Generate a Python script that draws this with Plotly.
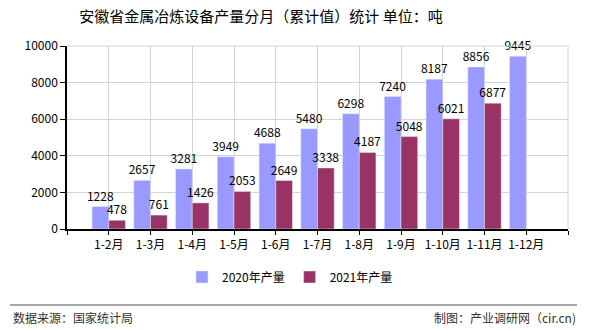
import plotly.graph_objects as go

categories = ["1-2月", "1-3月", "1-4月", "1-5月", "1-6月", "1-7月", "1-8月", "1-9月", "1-10月", "1-11月", "1-12月"]
values_2020 = [1228, 2657, 3281, 3949, 4688, 5480, 6298, 7240, 8187, 8856, 9445]
values_2021 = [478, 761, 1426, 2053, 2649, 3338, 4187, 5048, 6021, 6877, None]
y_ticks = [0, 2000, 4000, 6000, 8000, 10000]

FONT = "Noto Sans CJK SC, DejaVu Sans, sans-serif"
pos = list(range(1, len(categories) + 1))

fig = go.Figure()
fig.add_trace(go.Bar(
    x=pos, y=values_2020, name="2020年产量", marker_color="#9999FF",
    text=[str(v) for v in values_2020], textposition="outside", cliponaxis=False,
    constraintext="none",
    textfont=dict(size=12, color="#000000", family=FONT),
))
fig.add_trace(go.Bar(
    x=pos, y=values_2021, name="2021年产量", marker_color="#993366",
    text=[("" if v is None else str(v)) for v in values_2021], textposition="outside", cliponaxis=False,
    constraintext="none",
    textfont=dict(size=12, color="#000000", family=FONT),
))

tickvals = list(range(0, len(categories) + 2))
ticktext = [""] + categories + [""]

fig.update_layout(
    width=590, height=330,
    margin=dict(l=67, r=22, t=46, b=101),
    paper_bgcolor="white", plot_bgcolor="white",
    barmode="group", bargap=0.2, bargroupgap=0,
    font=dict(family=FONT, size=12, color="#000000"),
    title=dict(text="安徽省金属冶炼设备产量分月（累计值）统计 单位：吨",
               x=261 / 590, xanchor="center", y=1 - 17 / 330, yanchor="middle",
               font=dict(size=15, family=FONT, color="#000000")),
    showlegend=True,
    legend=dict(orientation="h", x=(182 - 67) / 501, xanchor="left",
                y=(229 - 277) / 183, yanchor="middle",
                font=dict(size=12, family=FONT)),
    xaxis=dict(range=[0, len(categories) + 1], tickvals=tickvals, ticktext=ticktext,
               showgrid=True, gridcolor="#D4D4D4", gridwidth=1,
               showline=True, linecolor="#000000", linewidth=1.5,
               ticks="outside", ticklen=4, tickcolor="#000000",
               tickfont=dict(size=12, family=FONT), zeroline=False, fixedrange=True),
    yaxis=dict(range=[0, 10000], tickvals=y_ticks, ticktext=[str(v) for v in y_ticks],
               showgrid=True, gridcolor="#D4D4D4", gridwidth=1,
               showline=True, linecolor="#000000", linewidth=1.5,
               ticks="outside", ticklen=5, tickcolor="#000000",
               tickfont=dict(size=12, family=FONT), zeroline=False, fixedrange=True),
)

# plot border gridlines (top and right)
fig.add_shape(type="line", xref="paper", yref="paper", x0=0, x1=1, y0=1, y1=1,
              line=dict(color="#D4D4D4", width=1))
fig.add_shape(type="line", xref="paper", yref="paper", x0=1, x1=1, y0=0, y1=1,
              line=dict(color="#D4D4D4", width=1))

# footer separator
fig.add_shape(type="line", xref="paper", yref="paper",
              x0=(10 - 67) / 501, x1=(577 - 67) / 501,
              y0=(229 - 305) / 183, y1=(229 - 305) / 183,
              line=dict(color="#888888", width=1.5))
fig.add_annotation(text="数据来源：国家统计局", xref="paper", yref="paper",
                   x=(11 - 67) / 501, xanchor="left", y=(229 - 317) / 183, yanchor="middle",
                   showarrow=False, font=dict(size=12, family=FONT, color="#333333"))
fig.add_annotation(text="制图：产业调研网（cir.cn)", xref="paper", yref="paper",
                   x=(578 - 67) / 501, xanchor="right", y=(229 - 317) / 183, yanchor="middle",
                   showarrow=False, font=dict(size=12, family=FONT, color="#333333"))

fig.write_html("out.html")
